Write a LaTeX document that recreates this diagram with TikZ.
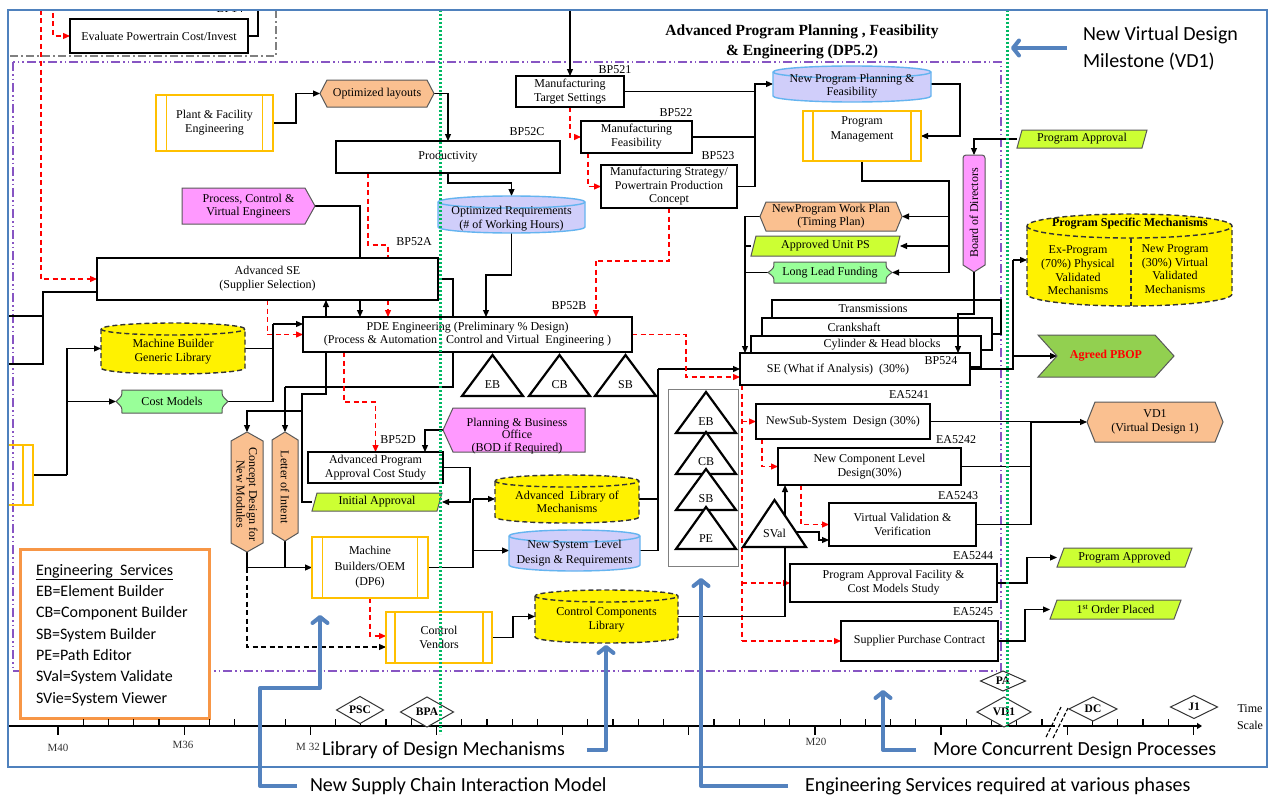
\documentclass[tikz,border=0pt]{standalone}
\usepackage{fontspec}
\setmainfont{Liberation Serif}
\newfontfamily\calib{Carlito}
\usetikzlibrary{arrows.meta}
\pgfdeclarelayer{bg}
\pgfdeclarelayer{shp}
\pgfsetlayers{bg,shp,main}
\definecolor{frameblue}{RGB}{79,129,189}
\definecolor{callblue}{RGB}{84,130,190}
\definecolor{purp}{RGB}{135,85,195}
\definecolor{dotgreen}{RGB}{0,185,100}
\definecolor{gold}{RGB}{255,192,0}
\definecolor{orfill}{RGB}{250,192,144}
\definecolor{limef}{RGB}{204,255,51}
\definecolor{pinkf}{RGB}{255,153,255}
\definecolor{lgreen}{RGB}{153,255,153}
\definecolor{lav}{RGB}{208,206,250}
\definecolor{lavb}{RGB}{100,180,240}
\definecolor{pbopg}{RGB}{146,208,80}
\definecolor{esor}{RGB}{247,150,70}
\definecolor{redd}{RGB}{255,0,0}
\tikzset{
  txt/.style={align=center,inner sep=0pt,outer sep=0pt,font=\fontsize{12}{14}\selectfont},
  box/.style={txt,draw=black,line width=2.2pt,fill=white},
  pre/.style={txt,draw=gold,line width=1.6pt,fill=white},
  lbl/.style={txt},
  con/.style={draw=black,line width=1.1pt},
  arr/.style={con,-{Triangle[length=7pt,width=6pt]}},
  rline/.style={draw=redd,line width=1.3pt,dash pattern=on 5pt off 3.5pt},
  rarr/.style={rline,-{Triangle[length=7pt,width=6pt]}},
  karr/.style={con,dash pattern=on 5pt off 3.5pt,-{Triangle[length=7pt,width=6pt]}},
  orshape/.style={draw=black!65,line width=1pt,fill=orfill},
  limeshape/.style={draw=black!65,line width=1pt,fill=limef},
  pinkshape/.style={draw=black!65,line width=1pt,fill=pinkf},
  grshape/.style={draw=black!65,line width=1pt,fill=lgreen},
  pbopshape/.style={draw=black!65,line width=1pt,fill=pbopg},
  yelcyl/.style={draw=black!80,line width=1.4pt,dash pattern=on 5pt off 3pt,fill=yellow},
  lavcyl/.style={draw=lavb,line width=1.4pt,fill=lav},
  callout/.style={draw=callblue,line width=4pt,line join=round,-{Straight Barb[length=6pt,width=15pt,round]}},
  calltxt/.style={txt,anchor=west,font=\calib\fontsize{20}{27}\selectfont},
  goldline/.style={draw=gold,line width=1.6pt},
  greendot/.style={draw=dotgreen,line width=3pt,dash pattern=on 2pt off 2pt},
}
\newcommand\nd[7][]{\pgfmathsetmacro\nW{#5-#3}\pgfmathsetmacro\nH{#6-#4}\pgfmathsetmacro\nX{(#3+#5)/2}\pgfmathsetmacro\nY{(#4+#6)/2}\node[#1,minimum width=\nW pt,minimum height=\nH pt] (#2) at (\nX,\nY) {#7};}
\newcommand\prelines[2]{\draw[goldline] ([xshift=#2pt]#1.north west) -- ([xshift=#2pt]#1.south west) ([xshift=-#2pt]#1.north east) -- ([xshift=-#2pt]#1.south east);}
\newcommand\hexs[3]{\begin{pgfonlayer}{shp}\path[#1] ([xshift=#3pt]#2.north west) -- ([xshift=-#3pt]#2.north east) -- (#2.east) -- ([xshift=-#3pt]#2.south east) -- ([xshift=#3pt]#2.south west) -- (#2.west) -- cycle;\end{pgfonlayer}}
\newcommand\vhexs[3]{\begin{pgfonlayer}{shp}\path[#1] (#2.north) -- ([yshift=-#3pt]#2.north east) -- ([yshift=#3pt]#2.south east) -- (#2.south) -- ([yshift=#3pt]#2.south west) -- ([yshift=-#3pt]#2.north west) -- cycle;\end{pgfonlayer}}
\newcommand\paras[3]{\begin{pgfonlayer}{shp}\path[#1] ([xshift=#3pt]#2.north west) -- (#2.north east) -- ([xshift=-#3pt]#2.south east) -- (#2.south west) -- cycle;\end{pgfonlayer}}
\newcommand\sige[3]{\begin{pgfonlayer}{shp}\path[#1] (#2.north west) -- ([xshift=-#3pt]#2.north east) -- (#2.east) -- ([xshift=-#3pt]#2.south east) -- (#2.south west) -- cycle;\end{pgfonlayer}}
\newcommand\sigw[3]{\begin{pgfonlayer}{shp}\path[#1] (#2.west) -- ([xshift=#3pt]#2.north west) -- (#2.north east) -- (#2.south east) -- ([xshift=#3pt]#2.south west) -- cycle;\end{pgfonlayer}}
\newcommand\chev[3]{\begin{pgfonlayer}{shp}\path[#1] (#2.north west) -- ([xshift=-#3pt]#2.north east) -- (#2.east) -- ([xshift=-#3pt]#2.south east) -- (#2.south west) -- ([xshift=#3pt]#2.west) -- cycle;\end{pgfonlayer}}
\newcommand\bods[3]{\begin{pgfonlayer}{shp}\path[#1] (#2.south) -- ([yshift=#3pt]#2.south west) [rounded corners=3pt] -- (#2.north west) -- (#2.north east) [sharp corners] -- ([yshift=#3pt]#2.south east) -- cycle;\end{pgfonlayer}}
\newcommand\plq[3]{\begin{pgfonlayer}{shp}\path[#1] ([xshift=#3pt]#2.north west) -- ([xshift=-#3pt]#2.north east) .. controls ([xshift=-#3pt,yshift=-#3pt]#2.north east) .. (#2.east) .. controls ([xshift=-#3pt,yshift=#3pt]#2.south east) .. ([xshift=-#3pt]#2.south east) -- ([xshift=#3pt]#2.south west) .. controls ([xshift=#3pt,yshift=#3pt]#2.south west) .. (#2.west) .. controls ([xshift=#3pt,yshift=-#3pt]#2.north west) .. ([xshift=#3pt]#2.north west) -- cycle;\end{pgfonlayer}}
\newcommand\mycyl[6]{\pgfmathsetmacro\cA{#3+#6}\pgfmathsetmacro\cB{#5-#6}\pgfmathsetmacro\cR{(#4-#2)/2}%
\begin{pgfonlayer}{shp}\path[#1] (#2,\cA) -- (#2,\cB) arc[start angle=180,end angle=360,x radius=\cR pt,y radius=#6pt] -- (#4,\cA) arc[start angle=0,end angle=180,x radius=\cR pt,y radius=#6pt] -- cycle;
\path[#1,fill=none] (#2,\cA) arc[start angle=180,end angle=360,x radius=\cR pt,y radius=#6pt];\end{pgfonlayer}}
\newcommand\tri[7]{\draw[line width=2.2pt,fill=white,line join=miter] (#2,#3) -- ({#2+#5},#4) -- ({#2-#5},#4) -- cycle;
\node[txt] (#1) at (#2,#7) {#6};}
\newcommand\dia[6]{\draw[line width=1pt,fill=white,draw=black!80] ({#2-#4},#3) -- (#2,{#3-#5}) -- ({#2+#4},#3) -- (#2,{#3+#5}) -- cycle;
\node[txt,font=\fontsize{11.5}{12}\selectfont\bfseries] (#1) at (#2,#3) {#6};}
\begin{document}
\begin{tikzpicture}[x=1pt,y=-1pt]
\useasboundingbox (0,0) rectangle (1273,800);
\begin{pgfonlayer}{bg}
\fill[white] (0,0) rectangle (1273,800);
\end{pgfonlayer}

% ---------- top-left
\nd[box]{eval}{70}{19}{248}{53}{Evaluate Powertrain Cost/Invest}
\begin{scope}
\clip (8,10) rectangle (1267,767);
\node[lbl] (bp14) at (230,9) {BP14};
\end{scope}

% ---------- titles
\node[txt,font=\fontsize{15.5}{20}\selectfont\bfseries] (title) at (802,42) {Advanced Program Planning , Feasibility\\\& Engineering (DP5.2)};
\node[calltxt,align=left] (vdtext) at (1083,48) {New Virtual Design\\Milestone (VD1)};
\coordinate (vdtip) at (1011,48);

% ---------- upper area
\nd[pre]{plant}{156}{95}{273}{151}{Plant \& Facility\\Engineering}
\prelines{plant}{10.5}
\nd[txt]{optl}{320}{80}{434}{107}{Optimized layouts}
\hexs{orshape}{optl}{7}
\nd[box]{prod}{336}{141}{560}{173}{Productivity}
\node[lbl] (lbc) at (527,132) {BP52C};
\mycyl{lavcyl}{438}{196}{585}{233}{6}
\nd[txt]{optreq}{438}{196}{585}{233}{}
\node[txt] (optreqt) at (511.5,219) {Optimized Requirements\\(\# of Working Hours)};
\nd[box]{mts}{516}{76}{624}{107}{Manufacturing\\Target Settings}
\node[lbl] (lb521) at (615,70) {BP521};
\nd[box]{mf}{581}{121}{692}{153}{Manufacturing\\Feasibility}
\node[lbl] (lb522) at (676,113) {BP522};
\nd[box,font=\fontsize{12}{13.5}\selectfont]{ms}{601}{165}{737}{208}{Manufacturing Strategy/\\Powertrain Production\\Concept}
\node[lbl] (lb523) at (718,156) {BP523};
\mycyl{lavcyl}{773}{66}{931}{102}{6}
\nd[txt]{npp}{773}{66}{931}{102}{}
\node[txt,font=\fontsize{12}{13}\selectfont] (nppt) at (852,86) {New Program Planning \&\\Feasibility};
\nd[pre]{pm}{803}{111}{921}{161}{}
\prelines{pm}{10}
\node[txt,font=\fontsize{12}{15}\selectfont] (pmt) at (862,129.5) {Program\\Management};
\nd[txt]{bod}{963}{155}{985}{272}{}
\bods{pinkshape}{bod}{7}
\node[txt,rotate=90] (bodt) at (974,213) {Board of Directors};
\nd[txt]{papp}{1017}{130}{1147}{148}{Program Approval}
\paras{limeshape}{papp}{5}
\mycyl{yelcyl}{1027}{214}{1232}{306}{12}
\nd[txt]{psm}{1027}{214}{1232}{306}{}
\node[txt,font=\fontsize{12}{14}\selectfont\bfseries] (psmt) at (1130,224) {Program Specific Mechanisms};
\draw[draw=black!80,line width=1.4pt,dash pattern=on 5pt off 3pt] (1131,238) -- (1131,306);
\node[txt,font=\fontsize{12}{13.6}\selectfont] (psml) at (1078,270.5) {Ex-Program\\(70\%) Physical\\Validated\\Mechanisms};
\node[txt,font=\fontsize{12}{13.6}\selectfont] (psmr) at (1175,269) {New Program\\(30\%) Virtual\\Validated\\Mechanisms};
\nd[txt]{pbop}{1038}{335}{1174}{377}{}
\chev{pbopshape}{pbop}{19}
\node[txt,font=\fontsize{12}{14}\selectfont\bfseries,text=redd] (pbopt) at (1106,356) {Agreed PBOP};
\nd[txt]{vd1}{1087}{402}{1223}{442}{VD1\\(Virtual Design 1)}
\hexs{orshape}{vd1}{8}

% ---------- left / middle
\nd[txt,font=\fontsize{12}{13}\selectfont]{pcve}{182}{188}{315}{224}{Process, Control \&\\Virtual Engineers}
\sige{pinkshape}{pcve}{10}
\nd[box]{ase}{97}{258}{438}{300}{Advanced SE\\(Supplier Selection)}
\node[lbl] (lba) at (414,242) {BP52A};
\mycyl{yelcyl}{101}{323}{245}{374}{6}
\nd[txt]{mbgl}{101}{323}{245}{374}{}
\node[txt] (mbglt) at (173,352) {Machine Builder\\Generic Library};
\nd[txt]{cost}{116}{390}{228}{413}{Cost Models}
\plq{grshape}{cost}{6}
\nd[txt]{lbox}{8}{445}{33}{505}{}
\draw[goldline] (lbox.north west) rectangle (lbox.south east);
\draw[goldline] ([xshift=-10pt]lbox.north east) -- ([xshift=-10pt]lbox.south east);
\nd[box,font=\fontsize{12}{13}\selectfont]{pde}{303}{317}{632}{352}{PDE Engineering (Preliminary \% Design)\\(Process \& Automation , Control and Virtual~ Engineering )}
\node[lbl] (lbb) at (569,306) {BP52B};
\tri{teb}{492.5}{355}{396}{30.5}{EB}{385}
\tri{tcb}{559.5}{355}{396}{30.5}{CB}{385}
\tri{tsb}{625.5}{355}{396}{30.5}{SB}{385}

% ---------- right middle
\nd[txt,font=\fontsize{12}{13}\selectfont]{nwp}{760}{202}{902}{231}{NewProgram Work Plan\\(Timing Plan)}
\hexs{orshape}{nwp}{6}
\nd[txt]{aups}{751}{236}{900}{256}{Approved Unit PS}
\paras{limeshape}{aups}{5}
\nd[txt]{llf}{768}{262}{892}{283}{Long Lead Funding}
\plq{grshape}{llf}{6}

\nd[box]{trans}{772}{300}{1001}{334}{}
\node[txt] (transt) at (873,309) {Transmissions};
\nd[box]{crank}{762}{318}{992}{350}{}
\node[txt] (crankt) at (854,327) {Crankshaft};
\nd[box]{cylb}{751}{336}{981}{367}{}
\node[txt] (cylbt) at (882,345) {Cylinder \& Head blocks};
\nd[box]{se}{740}{353}{970}{385}{}
\node[txt] (set) at (838,370) {SE (What if Analysis)~ (30\%)};
\node[lbl] (lb524) at (941,361) {BP524};

\nd[draw=gray,line width=1pt]{gbox}{668}{389}{738}{566}{}
\tri{teb2}{706}{392}{433}{30}{EB}{422}
\tri{tcb2}{706}{432}{474}{30}{CB}{462}
\tri{tsb2}{706}{469}{510}{30}{SB}{499}
\tri{tpe2}{706}{507}{549}{30}{PE}{539}

\nd[box]{nss}{756}{404}{930}{439}{NewSub-System~ Design (30\%)}
\node[lbl] (lb5241) at (909,395) {EA5241};
\nd[box]{ncl}{778}{448}{961}{485}{New Component Level\\Design(30\%)}
\node[lbl] (lb5242) at (956,440) {EA5242};
\tri{tsval}{774.5}{500}{547}{31.5}{SVal}{533}
\coordinate (svalr) at (797,532);
\nd[box]{vv}{829}{503}{976}{546}{Virtual Validation \&\\Verification}
\node[lbl] (lb5243) at (958,496) {EA5243};
\nd[box]{pafc}{790}{564}{997}{602}{Program Approval Facility \&\\Cost Models Study}
\node[lbl] (lb5244) at (973,556) {EA5244};
\nd[box]{spc}{841}{621}{998}{661}{Supplier Purchase Contract}
\node[lbl] (lb5245) at (973,612) {EA5245};
\nd[txt]{papd}{1057}{548}{1192}{567}{Program Approved}
\paras{limeshape}{papd}{7}
\nd[txt]{fop}{1050}{600}{1181}{619}{1\textsuperscript{st} Order Placed}
\paras{limeshape}{fop}{7}

% ---------- lower middle
\nd[txt]{pbo}{443}{408}{585}{452}{}
\sigw{pinkshape}{pbo}{10}
\node[txt,font=\fontsize{12}{12.5}\selectfont] (pbot) at (517,436) {Planning \& Business\\Office\\(BOD if Required)};
\nd[box]{apacs}{308}{452}{443}{483}{Advanced Program\\Approval Cost Study}
\node[lbl] (lbd) at (398,440) {BP52D};
\nd[txt]{ia}{312}{493}{442}{511}{Initial Approval}
\paras{limeshape}{ia}{5}
\mycyl{yelcyl}{495}{475}{639}{523}{6}
\nd[txt]{alm}{495}{475}{639}{523}{}
\node[txt,font=\fontsize{12}{13}\selectfont] (almt) at (567,502) {Advanced~ Library of\\Mechanisms};
\mycyl{lavcyl}{509}{530}{640}{571}{6}
\nd[txt]{nsld}{509}{530}{640}{571}{}
\node[txt,font=\fontsize{12}{15}\selectfont] (nsldt) at (574.5,553.5) {New System~ Level\\Design \& Requirements};
\nd[pre,font=\fontsize{12}{15.5}\selectfont]{mbo}{312}{537}{428}{598}{Machine\\Builders/OEM\\(DP6)}
\prelines{mbo}{10.5}
\nd[pre]{cv}{386}{612}{492}{663}{Control\\Vendors}
\prelines{cv}{9}
\mycyl{yelcyl}{535}{590}{678}{643}{6}
\nd[txt]{ccl}{535}{590}{678}{643}{}
\node[txt] (cclt) at (606.5,620) {Control Components\\Library};
\nd[txt]{cdnm}{231}{432}{263}{552}{}
\vhexs{orshape}{cdnm}{9}
\node[txt,rotate=-90,font=\fontsize{12}{12.5}\selectfont] (cdnmt) at (247,494) {Concept Design for\\New Modules};
\nd[txt]{loi}{272}{432}{298}{541}{}
\vhexs{orshape}{loi}{8}
\node[txt,rotate=-90] (loit) at (285,487) {Letter of Intent};

% ---------- legend box
\nd[draw=esor,line width=3pt,fill=white]{esl}{20}{549}{209}{718}{}
\node[txt,align=left,anchor=west,font=\calib\fontsize{16}{21.3}\selectfont] (eslt) at (36,635) {\underline{Engineering\ \ Services}\\EB=Element Builder\\CB=Component Builder\\SB=System Builder\\PE=Path Editor\\SVal=System Validate\\SVie=System Viewer};

% ---------- time line
\draw[line width=2pt] (9,726) -- (1055,726);
\draw[line width=2pt,-{Triangle[length=5pt,width=6pt]}] (1063,726) -- (1202,726);
\foreach \k in {1,...,46}{\pgfmathsetmacro\tx{32.8+25.23*\k}\pgfmathtruncatemacro\mm{mod(\k+4,5)}\ifnum\mm=0 \draw[line width=1.2pt] (\tx,726) -- (\tx,735);\else \draw[line width=1.2pt] (\tx,726) -- (\tx,719);\fi}
\draw[line width=1.1pt,dash pattern=on 4pt off 2pt] (1046,737) -- (1061,707);
\draw[line width=1.1pt,dash pattern=on 4pt off 2pt] (1053,738) -- (1068,708);
\dia{dpsc}{360}{710}{23.5}{13.5}{PSC}
\dia{dbpa}{427}{712}{26.5}{15}{BPA}
\dia{dpa}{1003}{681}{22.5}{10}{PA}
\dia{dvd}{1004}{712}{27}{15}{VD1}
\dia{ddc}{1093}{709}{24}{12}{DC}
\dia{dj1}{1194}{707}{23.5}{11.5}{J1}
\node[txt,font=\fontsize{11}{12}\selectfont,text=black!80] (m40) at (58,748) {M40};
\node[txt,font=\fontsize{11}{12}\selectfont,text=black!80] (m36) at (183,745) {M36};
\node[txt,font=\fontsize{11}{12}\selectfont,text=black!80] (m32) at (308,747) {M 32};
\node[txt,font=\fontsize{11}{12}\selectfont,text=black!80] (m20) at (816,742) {M20};
\node[txt,font=\fontsize{12}{17}\selectfont] (tscale) at (1250,717) {Time\\Scale};

% ---------- connectors (behind)
\begin{pgfonlayer}{bg}
\draw[purp,line width=1.3pt,dash pattern=on 9pt off 3pt on 1.5pt off 3pt on 1.5pt off 3pt] (13,62) rectangle (1001,671);
\draw[gray,line width=1.2pt,dash pattern=on 8pt off 3pt on 2pt off 3pt] (10,56) -- (276,56) -- (276,10);
\coordinate (rtop1) at (41,10);
\coordinate (rtop2) at (53,13);
\draw[rarr] (rtop1) |- (ase.west);
\draw[rarr] (rtop2) |- (eval.west);
\coordinate (evtop) at (258,10);
\draw[con] (eval.east) -| (evtop);
\draw[arr] (plant.east) -- (296,123) |- (optl.west);
\draw[arr] (optl.east) -| (prod.north);
\draw[arr] (prod.south) -- (448,183) -| (optreq.north);
\draw[arr] (optreq.south) |- (486,275) -- ([xshift=18.5pt]pde.north);
\coordinate (mtop) at (570,10);
\draw[arr] (mtop) -- (mts.north);
\draw[con] (mts.east) -- (755,91.5);
\draw[con] (mf.east) -- (755,137);
\draw[arr] (ms.east) -- (755,186.5) |- (npp.west);
\draw[arr] (npp.east) -- (960,84) |- (pm.east);
\draw[con] (pm.south) |- (949,181) -- (949,272.5);
\draw[arr] (949,216.5) -- (nwp.east);
\draw[arr] (949,246) -- (aups.east);
\draw[arr] (949,272.5) -- (llf.east);
\draw[arr] (nwp.west) -| ([xshift=-110pt]se.north);
\draw[con] (aups.west) -- (745,246);
\draw[con] (llf.west) -- (745,272.5);
\draw[arr] (papp.west) -| (bod.north);
\draw[con] (se.east) -- (1013,369) -- (1013,260);
\draw[arr] (1013,260) -- (psm.west);
\draw[arr] (1013,356) -- ([xshift=19pt]pbop.west);
\draw[con] (nss.east) -- (1031,421.5) -- (1031,524.5);
\draw[arr] (1031,422) -- (vd1.west);
\draw[con] (ncl.east) -- (1031,466.5);
\draw[con] (vv.east) -- (1031,524.5);
\draw[arr] (pafc.east) -- (1027,583) |- (papd.west);
\draw[arr] (spc.east) -- (1025,641) |- (fop.west);
\draw[con] (pcve.east) -| ([xshift=92.5pt]ase.north);
\coordinate (lin1) at (8,316);
\coordinate (lin2) at (8,364);
\draw[con] (lin1) -- (43,316);
\draw[con] (lin2) -- (43,364) -- (43,292) -- ([yshift=-13pt]ase.west);
\draw[con] (lbox.east) -- (67,475);
\draw[arr] (67,475) |- (mbgl.west);
\draw[arr] (67,401.5) -- (cost.west);
\draw[con] (mbgl.east) -- (273,348.5);
\draw[con] (cost.east) -- (273,401.5) -- (273,324);
\draw[arr] (273,324) -- ([yshift=10.5pt]pde.west);
\draw[rarr] (ase.south) |- (pde.west);
\draw[rline] ([xshift=-80pt]prod.south) -- (368,245) -- (388,245) -- ([xshift=120.5pt]ase.north);
\draw[rarr] ([xshift=120.5pt]ase.south) -- ([xshift=-79.5pt]pde.north);
\draw[arr] ([xshift=92.5pt]ase.south) -- ([xshift=-107.5pt]pde.north);
\draw[arr] (ia.west) -- (302,502) -- (302,394) -- (326,394) -- ([xshift=58.5pt]ase.south);
\draw[con] (ase.east) -- (453,279) -- (453,387) -- (285,387);
\draw[arr] (285,387) -- (loi.north);
\draw[arr] (302,411) -| (cdnm.north);
\draw[con] (cdnm.south) -- (247,567.5);
\draw[arr] (247,567.5) -- (mbo.west);
\draw[con] (loi.south) -- (285,567.5);
\draw[karr] (247,567.5) |- ([yshift=-9.5pt]cv.west);
\draw[rarr] (mbo.south) |- ([yshift=1.5pt]cv.west);
\draw[arr] (cv.east) -- (513,637.5) |- (ccl.west);
\draw[con] (mbo.east) -- (473,567.5) -- (473,499);
\draw[arr] (473,499) -- (alm.west);
\draw[arr] (473,550.5) -- (nsld.west);
\draw[con] (alm.east) -- (658,499);
\draw[con] (nsld.east) -- (658,550.5) -- (658,369);
\draw[arr] (658,369) -- (se.west);
\draw[rarr] (pde.east) -- (686,334.5) |- ([yshift=-8pt]se.west);
\draw[rline] (ms.south) -- (669,261) -- (596,261);
\draw[rarr] (596,261) -- ([xshift=128.5pt]pde.north);
\draw[rarr] (mts.south) |- (mf.west);
\draw[rarr] ([xshift=-48.5pt]mf.south) |- (ms.west);
\draw[rarr] ([xshift=-123.5pt]pde.south) -- (344,402) -| (apacs.north);
\draw[arr] (pbo.west) -- (425,430) -- ([xshift=49.5pt]apacs.north);
\draw[arr] (apacs.east) -- (470,467.5) |- (ia.east);
\draw[rline] ([xshift=-113pt]se.south) -- (742,641);
\draw[rarr] (742,421.5) -- (nss.west);
\draw[rarr] (742,583) -- (pafc.west);
\draw[rarr] (742,641) -- (spc.west);
\draw[rarr] ([xshift=-81pt]nss.south) |- (ncl.west);
\draw[rarr] ([xshift=-68.5pt]ncl.south) |- (vv.west);
\draw[arr] (ccl.east) -| ([xshift=-84.5pt]ncl.south);
\draw[arr] (svalr) -- (819,532) |- ([yshift=-15.5pt]vv.west);
\end{pgfonlayer}

% ---------- on top
\draw[arr] (bod.south) -- (974,314) -| ([xshift=103pt]se.north);
\draw[greendot] (440,10) -- (440,734);
\draw[greendot] (1007,10) -- (1007,727);

% ---------- callouts
\draw[callout] ([xshift=-16pt]vdtext.west) -- (vdtip);
\node[calltxt] (cscm) at (310,786) {New Supply Chain Interaction Model};
\coordinate (cscmtip) at (320,615);
\draw[callout] ([xshift=-13pt]cscm.west) -- (260,786) -- (260,688) -- (320,688) -- (cscmtip);
\node[calltxt] (clib) at (322,750) {Library of Design Mechanisms};
\coordinate (cliptip) at (606,645);
\draw[callout] ([xshift=22pt]clib.east) -- (606,750) -- (cliptip);
\node[calltxt] (cesr) at (805,786) {Engineering Services required at various phases};
\coordinate (cesrtip) at (701,578);
\draw[callout] ([xshift=-17pt]cesr.west) -- (701,786) -- (cesrtip);
\node[calltxt] (cmcd) at (933,750) {More Concurrent Design Processes};
\coordinate (cmcdtip) at (883,690);
\draw[callout] ([xshift=-17pt]cmcd.west) -- (883,750) -- (cmcdtip);

\draw[frameblue,line width=1.4pt] (8,10) rectangle (1267,767);
\end{tikzpicture}
\end{document}
